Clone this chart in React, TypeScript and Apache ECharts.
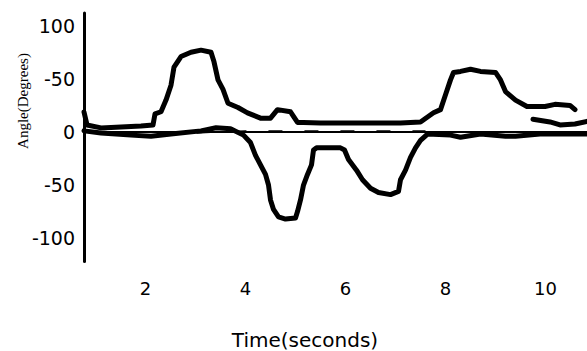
import React, { useEffect, useRef } from "react";
import * as echarts from "echarts";

// Tick labels (the scan labels the +50 tick as "-50")
const xTickValues = [2, 4, 6, 8, 10];
const yTickValues = [-100, -50, 0, 50, 100];
const yTickText: Record<number, string> = { "-100": "-100", "-50": "-50", "0": "0", "50": "-50", "100": "100" } as any;

// Upper trace: [time (s), angle (deg)]
const upperTrace: [number, number][] = [
  [0.77, 18.8], [0.83, 6.6], [1.11, 3.8], [1.51, 4.7], [1.91, 5.6], [2.15, 6.6],
  [2.19, 17], [2.31, 19], [2.41, 30], [2.51, 44], [2.57, 61], [2.71, 71],
  [2.91, 75], [3.11, 77], [3.31, 75], [3.37, 66], [3.45, 49], [3.55, 40],
  [3.65, 27], [3.85, 23], [4.04, 18], [4.3, 13], [4.5, 13], [4.64, 21],
  [4.9, 19], [5.04, 9], [5.16, 9], [5.5, 8.5], [6.0, 8.5], [6.5, 8.5],
  [7.1, 8.5], [7.5, 9.4], [7.76, 18], [7.9, 21], [8.0, 35], [8.1, 49],
  [8.16, 56], [8.3, 57], [8.5, 59], [8.7, 57], [9.0, 56], [9.1, 49],
  [9.2, 38], [9.4, 30], [9.63, 24], [9.99, 24], [10.19, 26], [10.49, 25],
  [10.59, 21],
];

// Lower trace
const lowerTrace: [number, number][] = [
  [0.77, 1], [1.11, -1], [1.71, -3], [2.11, -4], [2.51, -2], [3.11, 1],
  [3.41, 4], [3.7, 3], [3.96, -3], [4.1, -10], [4.2, -22], [4.3, -31],
  [4.4, -40], [4.46, -50], [4.5, -64], [4.56, -73], [4.66, -80], [4.8, -82],
  [5.0, -81], [5.04, -75], [5.1, -64], [5.16, -50], [5.24, -40], [5.32, -31],
  [5.36, -17], [5.42, -15], [5.9, -15], [5.98, -17], [6.06, -26], [6.22, -36],
  [6.34, -45], [6.5, -53], [6.66, -57], [6.9, -59], [7.06, -56], [7.1, -45],
  [7.2, -36], [7.3, -24], [7.4, -15], [7.5, -8], [7.64, -2], [8.1, -3],
  [8.3, -5], [8.7, -2], [9.2, -4], [9.4, -4], [9.89, -2], [10.83, -2],
];

// Short trailing segment near the end
const tailTrace: [number, number][] = [
  [9.75, 12], [10.09, 9.4], [10.29, 6.6], [10.59, 7.5], [10.83, 10],
];

// Thin broken line near zero
const zeroTrace: [number, number][] = [
  [2.3, -2], [3.0, -1], [4.0, 1], [5.0, 1], [6.0, 1], [7.6, 1],
];

export default function App() {
  const ref = useRef<HTMLDivElement>(null);
  useEffect(() => {
    if (!ref.current) return;
    const chart = echarts.init(ref.current, undefined, { renderer: "svg" });
    const thick = (name: string, data: [number, number][]) => ({
      name,
      type: "line",
      data,
      showSymbol: false,
      symbol: "none",
      lineStyle: { color: "#000", width: 5, join: "round", cap: "round" },
      z: 3,
    });
    chart.setOption({
      animation: false,
      backgroundColor: "#fff",
      grid: { left: 84, right: 0, top: 13, bottom: 89.5, containLabel: false },
      xAxis: {
        type: "value",
        min: 0.77,
        max: 10.83,
        axisLine: { show: true, lineStyle: { color: "#000", width: 2 } },
        axisTick: { show: false },
        splitLine: { show: false },
        axisLabel: {
          customValues: xTickValues,
          color: "#000",
          fontFamily: "DejaVu Sans",
          fontSize: 18,
          margin: 18,
          showMinLabel: true,
          showMaxLabel: true,
        },
      },
      yAxis: {
        type: "value",
        min: -122,
        max: 112,
        axisLine: { show: true, lineStyle: { color: "#000", width: 3 } },
        axisTick: { show: false },
        splitLine: { show: false },
        axisLabel: {
          customValues: yTickValues,
          formatter: (v: number) => yTickText[v] ?? String(v),
          color: "#000",
          fontFamily: "DejaVu Sans",
          fontSize: 19,
          margin: 9,
        },
      },
      graphic: [
        {
          type: "text",
          x: 23,
          y: 101,
          rotation: Math.PI / 2,
          style: {
            text: "Angle(Degrees)",
            fontFamily: "Liberation Serif",
            fontSize: 15,
            fill: "#000",
            align: "center",
            verticalAlign: "middle",
          },
        },
        {
          type: "text",
          x: 305,
          y: 330,
          style: {
            text: "Time(seconds)",
            fontFamily: "DejaVu Sans",
            fontSize: 20,
            lineHeight: 20,
            fill: "#000",
            align: "center",
            verticalAlign: "top",
          },
        },
      ],
      series: [
        thick("upper", upperTrace),
        thick("lower", lowerTrace),
        thick("tail", tailTrace),
        {
          name: "zero",
          type: "line",
          data: zeroTrace,
          showSymbol: false,
          symbol: "none",
          lineStyle: { color: "#000", width: 1.5, type: [14, 22] },
          z: 2,
        },
      ],
    });
    return () => chart.dispose();
  }, []);
  return (
    <div
      ref={ref}
      style={{ position: "fixed", left: 0, top: 0, width: 587, height: 351 }}
    />
  );
}
